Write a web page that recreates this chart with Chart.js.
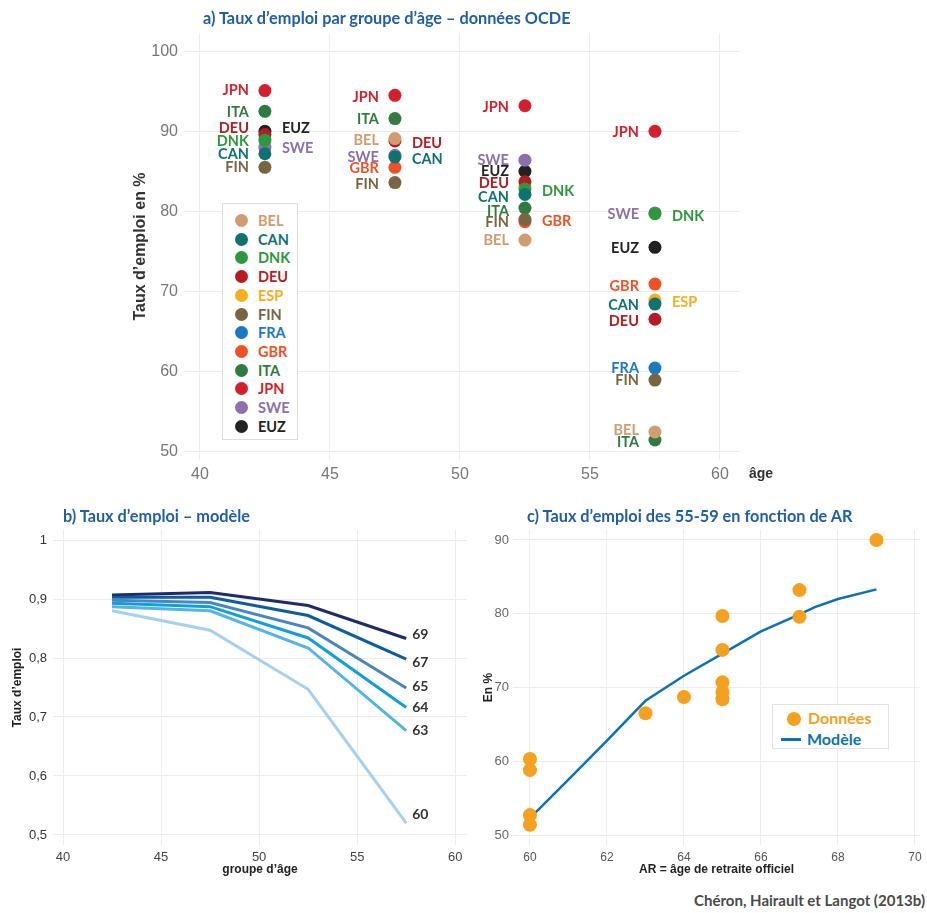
<!DOCTYPE html>
<html><head><meta charset="utf-8">
<script src="https://cdn.jsdelivr.net/npm/chart.js@4/dist/chart.umd.min.js"></script>
<style>
html,body{margin:0;padding:0;background:#fff;width:927px;height:913px;overflow:hidden;font-family:"Liberation Sans",Arial,sans-serif}
.box{position:absolute}
.ttl{position:absolute;color:#1f5ea8;font-family:Lato,"Open Sans",sans-serif;font-weight:bold;font-size:16.3px;white-space:nowrap;line-height:1}
.lgA{position:absolute;left:222px;top:203px;width:76px;height:237px;border:1px solid #dcdcdc;background:#fff;box-sizing:border-box}
.lgA div{position:absolute;left:0;height:18px;font-family:Lato,sans-serif;font-weight:bold;font-size:14.5px;line-height:18px;white-space:nowrap}
.lgA span.d{position:absolute;left:12px;top:2px;width:13px;height:13px;border-radius:50%}
.lgA span.t{position:absolute;left:35px;top:0}
.src{position:absolute;right:2px;top:891px;font-family:Lato,sans-serif;font-weight:bold;font-size:15px;color:#4a4a4a;white-space:nowrap}
.lgC{position:absolute;left:772px;top:704px;width:117px;height:45px;border:1px solid #e2e2e2;background:#fff;box-sizing:border-box;font-family:Lato,sans-serif;font-weight:bold;font-size:16px}
</style></head>
<body>
<div class="box" style="left:0;top:0;width:927px;height:490px"><canvas id="cA"></canvas></div>
<div class="box" style="left:0;top:500px;width:475px;height:385px"><canvas id="cB"></canvas></div>
<div class="box" style="left:480px;top:500px;width:447px;height:385px"><canvas id="cC"></canvas></div>

<div class="ttl" style="left:203px;top:10px">a) Taux d’emploi par groupe d’âge – données OCDE</div>
<div class="ttl" style="left:63px;top:508px">b) Taux d’emploi – modèle</div>
<div class="ttl" style="left:527px;top:508px">c) Taux d’emploi des 55-59 en fonction de AR</div>
<div style="position:absolute;left:749px;top:465px;font-family:'Liberation Sans',Arial,sans-serif;font-weight:bold;font-size:14px;color:#333">âge</div>
<div class="lgA" id="legendA"></div>
<div class="lgC">
  <span style="position:absolute;left:14px;top:7px;width:14px;height:14px;border-radius:50%;background:#f6a020"></span>
  <span style="position:absolute;left:35px;top:3px;color:#f6a020">Données</span>
  <span style="position:absolute;left:8px;top:33px;width:20px;height:3px;background:#0a72b6"></span>
  <span style="position:absolute;left:34px;top:24px;color:#0a72b6">Modèle</span>
</div>
<div class="src">Chéron, Hairault et Langot (2013b)</div>

<script>
// ---------- Panel a : OECD data ----------
const ageGroups = [42.5, 47.5, 52.5, 57.5];
const countries = ["BEL","CAN","DNK","DEU","ESP","FIN","FRA","GBR","ITA","JPN","SWE","EUZ"];
const BEL = [null, 89.1, 76.4, 52.4];
const CAN = [87.2, 86.8, 82.1, 68.4];
const DNK = [88.9, null, 82.8, 79.7];
const DEU = [89.6, 88.8, 83.7, 66.5];
const ESP = [null, null, 83.2, 68.9];
const FIN = [85.5, 83.6, 79.0, 58.9];
const FRA = [null, null, null, 60.4];
const GBR = [null, 85.5, 78.7, 70.9];
const ITA = [92.5, 91.6, 80.4, 51.4];
const JPN = [95.1, 94.5, 93.2, 90.0];
const SWE = [88.0, 87.0, 86.4, 79.8];
const EUZ = [90.0, null, 85.0, 75.5];
const xTicksA = [40, 45, 50, 55, 60];
const yTicksA = [50, 60, 70, 80, 90, 100];

// ---------- Panel b : model ----------
const modelGroups = [42.5, 47.5, 52.5, 57.5];
const retireAges = ["69","67","65","64","63","60"];
const r69 = [0.907, 0.911, 0.889, 0.833];
const r67 = [0.903, 0.903, 0.872, 0.798];
const r65 = [0.898, 0.894, 0.851, 0.749];
const r64 = [0.893, 0.887, 0.834, 0.716];
const r63 = [0.887, 0.880, 0.817, 0.677];
const r60 = [0.880, 0.847, 0.747, 0.520];

// ---------- Panel c : 55-59 vs AR ----------
const dataAR   = [60, 60, 60, 60, 63, 64, 65, 65, 65, 65, 65, 67, 67, 69];
const dataRate = [60.3, 58.8, 52.7, 51.4, 66.5, 68.7, 79.7, 75.1, 70.7, 69.4, 68.4, 83.2, 79.6, 90.0];
const modelAR   = [60, 61, 62, 63, 64, 65, 66, 67, 67.4, 68, 69];
const modelRate = [52.3, 57.5, 62.8, 68.2, 71.6, 74.6, 77.6, 79.9, 80.9, 82.0, 83.3];

// ---------- styles (kept apart from data) ----------
const countryColor = {BEL:"#d19c6e",CAN:"#0d7270",DNK:"#2c9a3c",DEU:"#b51c22",ESP:"#f7ae1c",FIN:"#7a6541",
  FRA:"#1a79c0",GBR:"#ef5124",ITA:"#2f7b40",JPN:"#d41f2c",SWE:"#8b70ad",EUZ:"#222222"};
// label placement per age group: [side, dy] ; null = no label
const labelPos = {
  BEL:[null,["l",2],["l",0],["l",-2]],
  CAN:[["l",1],["r",2],["l",3],["l",1]],
  DNK:[["l",1],null,["r",2],["r",3]],
  DEU:[["l",-6],["r",2],["l",2],["l",2]],
  ESP:[null,null,null,["r",2]],
  FIN:[["l",0],["l",2],["l",3],["l",0]],
  FRA:[null,null,null,["l",0]],
  GBR:[null,["l",1],["r",0],["l",2]],
  ITA:[["l",1],["l",1],["l",3],["l",2]],
  JPN:[["l",0],["l",2],["l",2],["l",1]],
  SWE:[["r",1],["l",2],["l",0],["l",1]],
  EUZ:[["r",-3],null,["l",0],["l",1]]
};
const seriesB = {"69":r69,"67":r67,"65":r65,"64":r64,"63":r63,"60":r60};
const colorB = {"69":"#1f2c6c","67":"#0b5da4","65":"#4a86c0","64":"#0fa0dc","63":"#52b4e8","60":"#a5d0ef"};
const labelDyB = {"69":-4,"67":3,"65":-2,"64":0,"63":0,"60":-9};

const countryData = {BEL,CAN,DNK,DEU,ESP,FIN,FRA,GBR,ITA,JPN,SWE,EUZ};
const gridCol = "#ececec";

// legend A
const lg = document.getElementById("legendA");
countries.forEach((c,i)=>{
  const d = document.createElement("div");
  d.style.top = (8 + i*18.7) + "px";
  d.innerHTML = '<span class="d" style="background:'+countryColor[c]+'"></span><span class="t" style="color:'+countryColor[c]+'">'+c+'</span>';
  lg.appendChild(d);
});

const noAnim = {animation:false, responsive:true, maintainAspectRatio:false, events:[]};

// ---------- Chart A ----------
const labelPluginA = {
  id:"labA",
  afterDatasetsDraw(chart){
    const ctx = chart.ctx;
    ctx.save();
    ctx.font = "bold 14.5px Lato, sans-serif";
    ctx.textBaseline = "middle";
    chart.data.datasets.forEach((ds,i)=>{
      const meta = chart.getDatasetMeta(i);
      const c = ds.label;
      meta.data.forEach((pt,k)=>{
        const lp = labelPos[c][k];
        if (pt.skip || !lp || ds.data[k].y == null) return;
        ctx.fillStyle = countryColor[c];
        if (lp[0]==="l"){ ctx.textAlign="right"; ctx.fillText(c, pt.x-16, pt.y+lp[1]); }
        else { ctx.textAlign="left"; ctx.fillText(c, pt.x+17, pt.y+lp[1]); }
      });
    });
    ctx.restore();
  }
};
new Chart(document.getElementById("cA"), {
  type:"scatter",
  data:{datasets: countries.map(c=>({
    label:c,
    data: ageGroups.map((a,k)=>({x:a, y:countryData[c][k]})),
    backgroundColor: countryColor[c], borderColor: countryColor[c],
    pointRadius:6.5, borderWidth:0
  }))},
  options:{...noAnim,
    layout:{padding:{left:126,right:187,top:33,bottom:0}},
    plugins:{legend:{display:false},tooltip:{enabled:false}},
    scales:{
      x:{type:"linear",min:39.35,max:60.77,
        afterFit:s=>{s.height=30;},
        border:{display:false},
        grid:{color:gridCol,drawTicks:false,tickLength:0,lineWidth:1},
        afterBuildTicks:s=>{s.ticks = xTicksA.map(v=>({value:v}));},
        ticks:{color:"#777",font:{family:"Liberation Sans",size:16},padding:5}},
      y:{type:"linear",min:48.9,max:102.3,
        afterFit:s=>{s.width=57;},
        border:{display:false},
        grid:{color:gridCol,drawTicks:false,tickLength:0},
        afterBuildTicks:s=>{s.ticks = yTicksA.map(v=>({value:v}));},
        ticks:{color:"#777",font:{family:"Liberation Sans",size:16},padding:5},
        title:{display:true,text:"Taux d’emploi en %",color:"#333",font:{family:"Liberation Sans",size:16,weight:"bold"},padding:{top:5,bottom:0}}}
    }
  },
  plugins:[labelPluginA]
});

// ---------- Chart B ----------
const labelPluginB = {
  id:"labB",
  afterDatasetsDraw(chart){
    const ctx = chart.ctx;
    ctx.save();
    ctx.font = "bold 14px Lato, sans-serif";
    ctx.fillStyle = "#333";
    ctx.textBaseline = "middle"; ctx.textAlign = "left";
    chart.data.datasets.forEach((ds,i)=>{
      const meta = chart.getDatasetMeta(i);
      const last = meta.data[meta.data.length-1];
      ctx.fillText(ds.label, last.x+6, last.y+labelDyB[ds.label]);
    });
    ctx.restore();
  }
};
const commaFmt = v => String(Math.round(v*10)/10).replace(".", ",");
new Chart(document.getElementById("cB"), {
  type:"line",
  data:{datasets: retireAges.slice().reverse().map(r=>({
    label:r,
    data: modelGroups.map((a,k)=>({x:a,y:seriesB[r][k]})),
    borderColor: colorB[r], backgroundColor: colorB[r],
    borderWidth:3, pointRadius:0, tension:0, fill:false
  }))},
  options:{...noAnim,
    layout:{padding:{left:8,right:8,top:30,bottom:0}},
    plugins:{legend:{display:false},tooltip:{enabled:false}},
    scales:{
      x:{type:"linear",min:39.49,max:60.6,
        afterFit:s=>{s.height=40;},
        border:{display:false},
        grid:{color:gridCol,drawTicks:false,tickLength:0},
        ticks:{stepSize:5,includeBounds:false,color:"#444",font:{family:"Liberation Sans",size:13},padding:5},
        title:{display:true,text:"groupe d’âge",color:"#222",font:{family:"Liberation Sans",size:12,weight:"bold"},padding:{top:0,bottom:8}}},
      y:{type:"linear",min:0.483,max:1.017,
        afterFit:s=>{s.width=45;},
        border:{display:false},
        grid:{color:gridCol,drawTicks:false,tickLength:0},
        ticks:{stepSize:0.1,includeBounds:false,color:"#333",font:{family:"Liberation Sans",size:13},padding:6,callback:commaFmt},
        title:{display:true,text:"Taux d’emploi",color:"#222",font:{family:"Liberation Sans",size:12,weight:"bold"},padding:{top:2,bottom:0}}}
    }
  },
  plugins:[labelPluginB]
});

// ---------- Chart C ----------
new Chart(document.getElementById("cC"), {
  type:"scatter",
  data:{datasets:[
    {label:"Modèle", type:"line", data: modelAR.map((a,k)=>({x:a,y:modelRate[k]})),
      borderColor:"#0a72b6", backgroundColor:"#0a72b6", borderWidth:2.5, pointRadius:0, tension:0, fill:false, order:2},
    {label:"Données", data: dataAR.map((a,k)=>({x:a,y:dataRate[k]})),
      backgroundColor:"#f6a020", borderColor:"#f6a020", pointRadius:7, borderWidth:0, order:1}
  ]},
  options:{...noAnim,
    layout:{padding:{left:1,right:7,top:30,bottom:0}},
    plugins:{legend:{display:false},tooltip:{enabled:false}},
    scales:{
      x:{type:"linear",min:59.56,max:70.13,
        afterFit:s=>{s.height=40;},
        border:{display:false},
        grid:{color:gridCol,drawTicks:false,tickLength:0},
        ticks:{stepSize:2,includeBounds:false,color:"#555",font:{family:"Liberation Sans",size:12},padding:5},
        title:{display:true,text:"AR = âge de retraite officiel",color:"#222",font:{family:"Liberation Sans",size:12,weight:"bold"},padding:{top:0,bottom:8}}},
      y:{type:"linear",min:48.65,max:91.35,
        afterFit:s=>{s.width=32;},
        border:{display:false},
        grid:{color:gridCol,drawTicks:false,tickLength:0},
        ticks:{stepSize:10,includeBounds:false,color:"#666",font:{family:"Liberation Sans",size:13},padding:4},
        title:{display:true,text:"En %",color:"#222",font:{family:"Liberation Sans",size:12,weight:"bold"},padding:{top:0,bottom:0}}}
    }
  }
});
</script>
</body></html>
